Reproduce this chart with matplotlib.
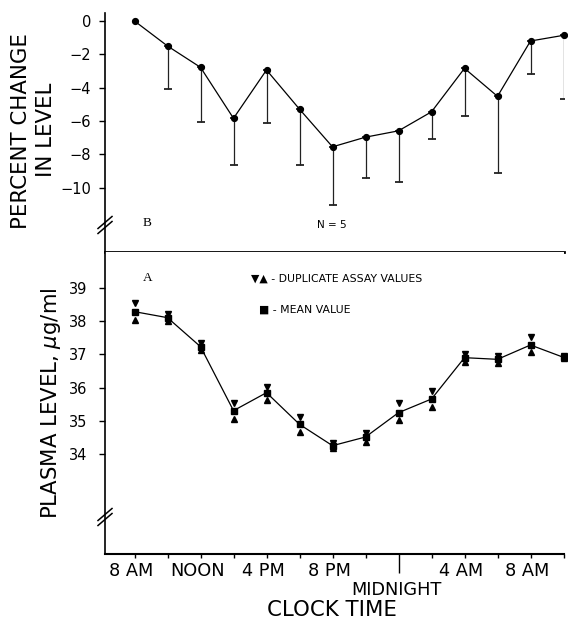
import numpy as np
import matplotlib
matplotlib.use("Agg")
import matplotlib.pyplot as plt
from matplotlib.transforms import ScaledTranslation

plt.rcParams['font.family'] = ['DejaVu Sans']

# ---------------- data ----------------
clock_times = ["8 AM", "10 AM", "NOON", "2 PM", "4 PM", "6 PM", "8 PM", "10 PM",
               "MIDNIGHT", "2 AM", "4 AM", "6 AM", "8 AM", "10 AM"]
tick_labels = ["8 AM", "", "NOON", "", "4 PM", "", "8 PM", "", "", "",
               "4 AM", "", "8 AM", ""]

# Panel B: percent change in level (mean) and lower SD bar
pct_change = [0.0, -1.50, -2.78, -5.84, -2.94, -5.29, -7.55, -6.97, -6.59,
              -5.45, -2.84, -4.52, -1.20, -0.86]
pct_sd = [np.nan, 2.60, 3.29, 2.79, 3.17, 3.34, 3.48, 2.44, 3.08,
          1.64, 2.83, 4.61, 1.98, 3.84]

# Panel A: plasma level (ug/ml)
plasma_mean = [38.28, 38.10, 37.23, 35.31, 35.85, 34.90, 34.26, 34.52, 35.25,
               35.66, 36.90, 36.85, 37.28, 36.91]
plasma_dup_hi = [38.55, 38.20, 37.35, 35.55, 36.03, 35.13, 34.35, 34.65, 35.53,
                 35.90, 37.01, 36.95, 37.51, 36.95]
plasma_dup_lo = [38.03, 38.01, 37.13, 35.06, 35.63, 34.68, 34.18, 34.38, 35.03,
                 35.41, 36.78, 36.73, 37.06, 36.88]

top_ticks = [0, -2, -4, -6, -8, -10]
bot_ticks = [34, 35, 36, 37, 38, 39]

# ---------------- layout ----------------
W, H = 568, 621
fig = plt.figure(figsize=(W / 100, H / 100), dpi=100)

def fx(px):
    return px / W

def fy(py):
    return 1 - py / H

left_px, right_px = 105, 563.5
sep_px, top_px, bot_px = 252, 13, 554
ax_top = fig.add_axes([fx(left_px), fy(sep_px), fx(right_px - left_px), (sep_px - top_px) / H])
ax_bot = fig.add_axes([fx(left_px), fy(bot_px), fx(right_px - left_px), (bot_px - sep_px) / H])

x = np.arange(len(clock_times))
xlim = (-0.894, 13.0)

# ---------------- top panel (B) ----------------
ax_top.plot(x, pct_change, color='black', lw=0.9, marker='o', ms=4.2,
            mfc='black', mec='black', clip_on=False, zorder=3)
sd = np.array(pct_sd)
m = ~np.isnan(sd)
ax_top.errorbar(x[m], np.array(pct_change)[m], yerr=[sd[m], np.zeros(m.sum())],
                fmt='none', ecolor='#222222', elinewidth=0.9, capsize=2.6,
                capthick=1.3, zorder=2)
ax_top.set_xlim(*xlim)
ax_top.set_ylim(-13.86, 0.48)
ax_top.set_yticks(top_ticks)
ax_top.set_xticks([])
for s in ['top', 'right']:
    ax_top.spines[s].set_visible(False)
ax_top.spines['left'].set_linewidth(1.2)
ax_top.spines['bottom'].set_linewidth(2.0)
ax_top.tick_params(axis='y', direction='out', length=4, width=1.0, pad=6,
                   labelsize=10.5)

# ---------------- bottom panel (A) ----------------
ax_bot.plot(x, plasma_mean, color='black', lw=0.9, marker='s', ms=4.6,
            mfc='black', mec='black', clip_on=False, zorder=3)
ax_bot.plot(x, plasma_dup_hi, ls='none', marker='v', ms=4.2, color='black',
            clip_on=False, zorder=4)
ax_bot.plot(x, plasma_dup_lo, ls='none', marker='^', ms=4.2, color='black',
            clip_on=False, zorder=4)
ax_bot.set_xlim(*xlim)
ax_bot.set_ylim(31.01, 40.07)
ax_bot.set_yticks(bot_ticks)
ax_bot.set_xticks(x)
ax_bot.set_xticklabels(tick_labels)
for s in ['top', 'right']:
    ax_bot.spines[s].set_visible(False)
ax_bot.spines['left'].set_linewidth(1.2)
ax_bot.spines['bottom'].set_linewidth(1.5)
ax_bot.tick_params(axis='y', direction='out', length=4, width=1.0, pad=9,
                   labelsize=10.5)
ax_bot.tick_params(axis='x', direction='out', length=3, width=1.0, pad=3,
                   labelsize=12.8)
# longer midnight tick
ax_bot.xaxis.get_major_ticks()[clock_times.index("MIDNIGHT")].tick1line.set_markersize(14)
offset = ScaledTranslation(-3 / 100, 0, fig.dpi_scale_trans)
for lab in ax_bot.get_xticklabels():
    lab.set_transform(lab.get_transform() + offset)

# ---------------- axis breaks ----------------
def axis_break(yc_px):
    for dy in (-2.5, 2.5):
        fig.add_artist(plt.Line2D([fx(left_px - 7), fx(left_px + 7)],
                                  [fy(yc_px + 6 + dy), fy(yc_px - 6 + dy)],
                                  color='black', lw=1.1))

axis_break(225)
axis_break(517)

# ---------------- texts ----------------
fig.text(fx(21.5), fy(131), "PERCENT CHANGE", rotation=90, ha='center',
         va='center', fontsize=15.3)
fig.text(fx(46.5), fy(129.5), "IN LEVEL", rotation=90, ha='center',
         va='center', fontsize=15.3)
fig.text(fx(51.5), fy(403), r"PLASMA LEVEL, $\mu$g/ml", rotation=90,
         ha='center', va='center', fontsize=15.3)
fig.text(fx(396), fy(590), "MIDNIGHT", ha='center', va='center', fontsize=12.8)
fig.text(fx(332), fy(610), "CLOCK TIME", ha='center', va='center', fontsize=15.3)

fig.text(fx(147), fy(223), "B", ha='center', va='center', fontsize=9.5,
         family='Liberation Serif')
fig.text(fx(148), fy(278), "A", ha='center', va='center', fontsize=9.5,
         family='Liberation Serif')
fig.text(fx(332), fy(225), "N = 5", ha='center', va='center', fontsize=7.5)

fig.text(fx(251), fy(279), "\u25BC\u25B2 - DUPLICATE ASSAY VALUES", ha='left',
         va='center', fontsize=7.8)
fig.text(fx(259), fy(310), "\u25A0 - MEAN VALUE", ha='left', va='center',
         fontsize=7.8)

fig.savefig("out.png", dpi=100, facecolor='white')
